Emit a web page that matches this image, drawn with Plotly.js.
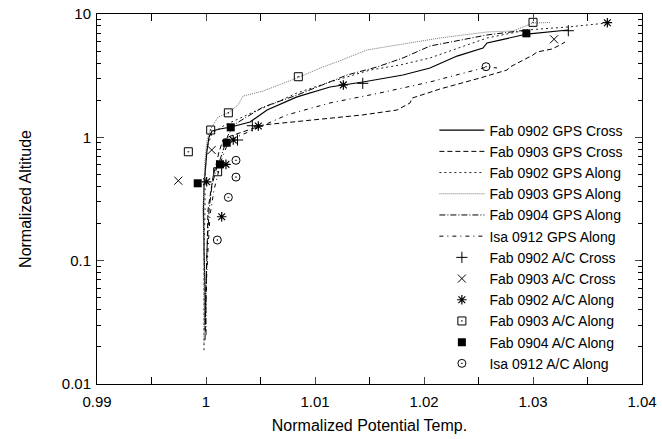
<!DOCTYPE html>
<html><head><meta charset="utf-8">
<script src="https://cdn.plot.ly/plotly-3.0.1.min.js"></script>
<style>html,body{margin:0;padding:0;background:#fff}#chart{width:662px;height:439px}</style>
</head><body><div id="chart"></div>
<script>
// ---- GPS profiles ----
const fab0902GpsCrossX = [0.99991,0.99991,0.99982,0.99977,0.99982,1.00000,1.00009,1.00028,1.00055,1.00128,1.00229,1.00404,1.00560,1.00835,1.01138,1.01440,1.01807,1.02055,1.02266,1.02303,1.02541,1.02578,1.02697,1.02945,1.03321];
const fab0902GpsCrossY = [0.0300,0.0578,0.122,0.257,0.410,0.596,0.789,1.006,1.125,1.168,1.212,1.33,1.665,2.13,2.56,2.81,3.20,3.65,4.40,4.56,5.30,5.82,6.15,6.88,7.42];

const fab0903GpsCrossX = [0.99991,1.00000,1.00009,1.00018,1.00046,1.00064,1.00092,1.00119,1.00156,1.00220,1.00523,1.00982,1.01440,1.01752,1.01872,1.01890,1.02055,1.02147,1.02514,1.02606,1.02761,1.02789,1.03000,1.03037,1.03174,1.03248,1.03294];
const fab0903GpsCrossY = [0.0227,0.0578,0.122,0.257,0.374,0.476,0.596,0.760,0.951,1.02,1.26,1.38,1.52,1.665,1.90,2.08,2.33,2.465,3.027,3.201,3.514,3.717,4.651,4.918,5.202,5.607,5.929];

const fab0902GpsAlongX = [0.99982,0.99982,0.99982,0.99991,0.99991,1.00000,1.00018,1.00055,1.00174,1.00312,1.00431,1.00633,1.00835,1.01138,1.01505,1.01780,1.02055,1.02578,1.02945,1.03321,1.03679];
const fab0902GpsAlongY = [0.0188,0.0479,0.122,0.257,0.451,0.655,0.866,1.08,1.26,1.43,1.60,1.90,2.29,2.81,3.51,3.86,4.40,6.39,7.42,7.85,8.45];

const fab0903GpsAlongX = [0.99982,0.99982,0.99982,0.99972,0.99982,0.99991,1.00009,1.00037,1.00110,1.00202,1.00294,1.00339,1.00523,1.00835,1.01073,1.01248,1.01477,1.01844,1.02147,1.02578,1.02817,1.03000,1.03156];
const fab0903GpsAlongY = [0.0207,0.0479,0.122,0.257,0.451,0.655,0.951,1.146,1.461,1.574,1.83,2.16,2.37,3.03,3.72,4.24,5.11,5.82,6.39,7.15,7.28,8.45,8.53];

const fab0904GpsAlongX = [1.00000,1.00000,1.00009,1.00028,1.00055,1.00092,1.00128,1.00165,1.00202,1.00266,1.00523,1.00835,1.01294,1.01569,1.01807,1.02055,1.02578,1.02945];
const fab0904GpsAlongY = [0.0249,0.0578,0.122,0.257,0.410,0.543,0.655,0.819,1.04,1.28,1.76,2.20,3.20,3.72,4.40,5.50,6.76,7.42];

const isa0912GpsAlongX = [0.99991,1.00000,1.00018,1.00037,1.00073,1.00119,1.00147,1.00183,1.00220,1.00743,1.01138,1.01596,1.02055,1.02330,1.02578,1.02670];
const isa0912GpsAlongY = [0.0274,0.0578,0.122,0.234,0.374,0.543,0.680,0.819,0.951,1.52,1.90,2.29,2.81,3.26,3.72,3.65];

// ---- aircraft points ----
const fab0902AcCrossX = [1.00289,1.00425,1.01438,1.03324];
const fab0902AcCrossY = [0.951,1.242,2.74,7.32];

const fab0903AcCrossX = [0.99746,1.00052,1.03193];
const fab0903AcCrossY = [0.445,0.789,6.24];

const fab0902AcAlongX = [1.00006,1.00144,1.00183,1.00250,1.00480,1.01260,1.03682];
const fab0902AcAlongY = [0.436,0.227,0.604,0.951,1.235,2.66,8.50];

const fab0903AcAlongX = [0.99838,1.00107,1.00043,1.00205,1.00847,1.03000];
const fab0903AcAlongY = [0.764,0.526,1.146,1.58,3.10,8.56];

const fab0904AcAlongX = [0.99924,1.00128,1.00190,1.00227,1.02939];
const fab0904AcAlongY = [0.424,0.604,0.904,1.205,6.97];

const isa0912AcAlongX = [1.00104,1.00205,1.00275,1.00275,1.02569];
const isa0912AcAlongY = [0.147,0.326,0.476,0.651,3.74];

const seriesNames = ["Fab 0902 GPS Cross","Fab 0903 GPS Cross","Fab 0902 GPS Along","Fab 0903 GPS Along","Fab 0904 GPS Along","Isa 0912 GPS Along",
  "Fab 0902 A/C Cross","Fab 0903 A/C Cross","Fab 0902 A/C Along","Fab 0903 A/C Along","Fab 0904 A/C Along","Isa 0912 A/C Along"];

function lineTrace(name, x, y, dash, color, width) {
  return {type:'scatter', mode:'lines', name:name, x:x, y:y,
    line:{color:color, width:width, dash:dash}};
}
function markTrace(name, x, y, symbol, size, lw) {
  return {type:'scatter', mode:'markers', name:name, x:x, y:y,
    marker:{symbol:symbol, size:size, color:'#000', line:{color:'#000', width:lw}}};
}

const data = [
  lineTrace(seriesNames[0], fab0902GpsCrossX, fab0902GpsCrossY, 'solid', '#000', 1.2),
  lineTrace(seriesNames[1], fab0903GpsCrossX, fab0903GpsCrossY, '5px,3px', '#000', 1),
  lineTrace(seriesNames[2], fab0902GpsAlongX, fab0902GpsAlongY, '2px,3px', '#222', 1),
  lineTrace(seriesNames[3], fab0903GpsAlongX, fab0903GpsAlongY, '1px,1px', '#777', 1),
  lineTrace(seriesNames[4], fab0904GpsAlongX, fab0904GpsAlongY, '6px,2px,1px,2px', '#000', 1),
  lineTrace(seriesNames[5], isa0912GpsAlongX, isa0912GpsAlongY, '4px,4px,1px,4px', '#000', 1),
  markTrace(seriesNames[6], fab0902AcCrossX, fab0902AcCrossY, 'cross-thin', 8, 1),
  markTrace(seriesNames[7], fab0903AcCrossX, fab0903AcCrossY, 'x-thin', 8, 1),
  markTrace(seriesNames[8], fab0902AcAlongX, fab0902AcAlongY, 'asterisk', 8, 1.2),
  markTrace(seriesNames[9], fab0903AcAlongX, fab0903AcAlongY, 'square-open-dot', 8, 1),
  markTrace(seriesNames[10], fab0904AcAlongX, fab0904AcAlongY, 'square', 8, 0),
  markTrace(seriesNames[11], isa0912AcAlongX, isa0912AcAlongY, 'circle-open-dot', 8, 1)
];

const font = {family:'Liberation Sans, Arial, sans-serif', color:'#000'};
const layout = {
  width:662, height:439,
  margin:{l:97, r:20, t:14, b:55},
  paper_bgcolor:'#fff', plot_bgcolor:'#fff',
  font:Object.assign({size:15}, font),
  showlegend:true,
  legend:{x:0.975, xanchor:'right', y:0.012, yanchor:'bottom',
    bgcolor:'rgba(255,255,255,0)', borderwidth:0, itemwidth:45,
    font:Object.assign({size:14}, font), tracegroupgap:0},
  xaxis:{range:[0.99,1.04], dtick:0.01, tick0:0.99, ticks:'inside', ticklen:7,
    showline:true, linecolor:'#000', linewidth:1, mirror:'ticks', showgrid:false, zeroline:false,
    tickfont:Object.assign({size:15}, font), ticklabelstandoff:4,
    minor:{dtick:0.005, ticks:'inside', ticklen:7, tickcolor:'#000', showgrid:false},
    title:{text:'Normalized Potential Temp.', font:Object.assign({size:16}, font), standoff:10}},
  yaxis:{type:'log', range:[-2,1], dtick:1, ticks:'inside', ticklen:7,
    showline:true, linecolor:'#000', linewidth:1, mirror:'ticks', showgrid:false, zeroline:false,
    tickfont:Object.assign({size:15}, font), ticklabelstandoff:2,
    minor:{dtick:'D1', ticks:'inside', ticklen:4, tickcolor:'#000', showgrid:false},
    title:{text:'Normalized Altitude', font:Object.assign({size:16}, font), standoff:26}}
};
Plotly.newPlot('chart', data, layout, {staticPlot:true, displayModeBar:false});
</script></body></html>
